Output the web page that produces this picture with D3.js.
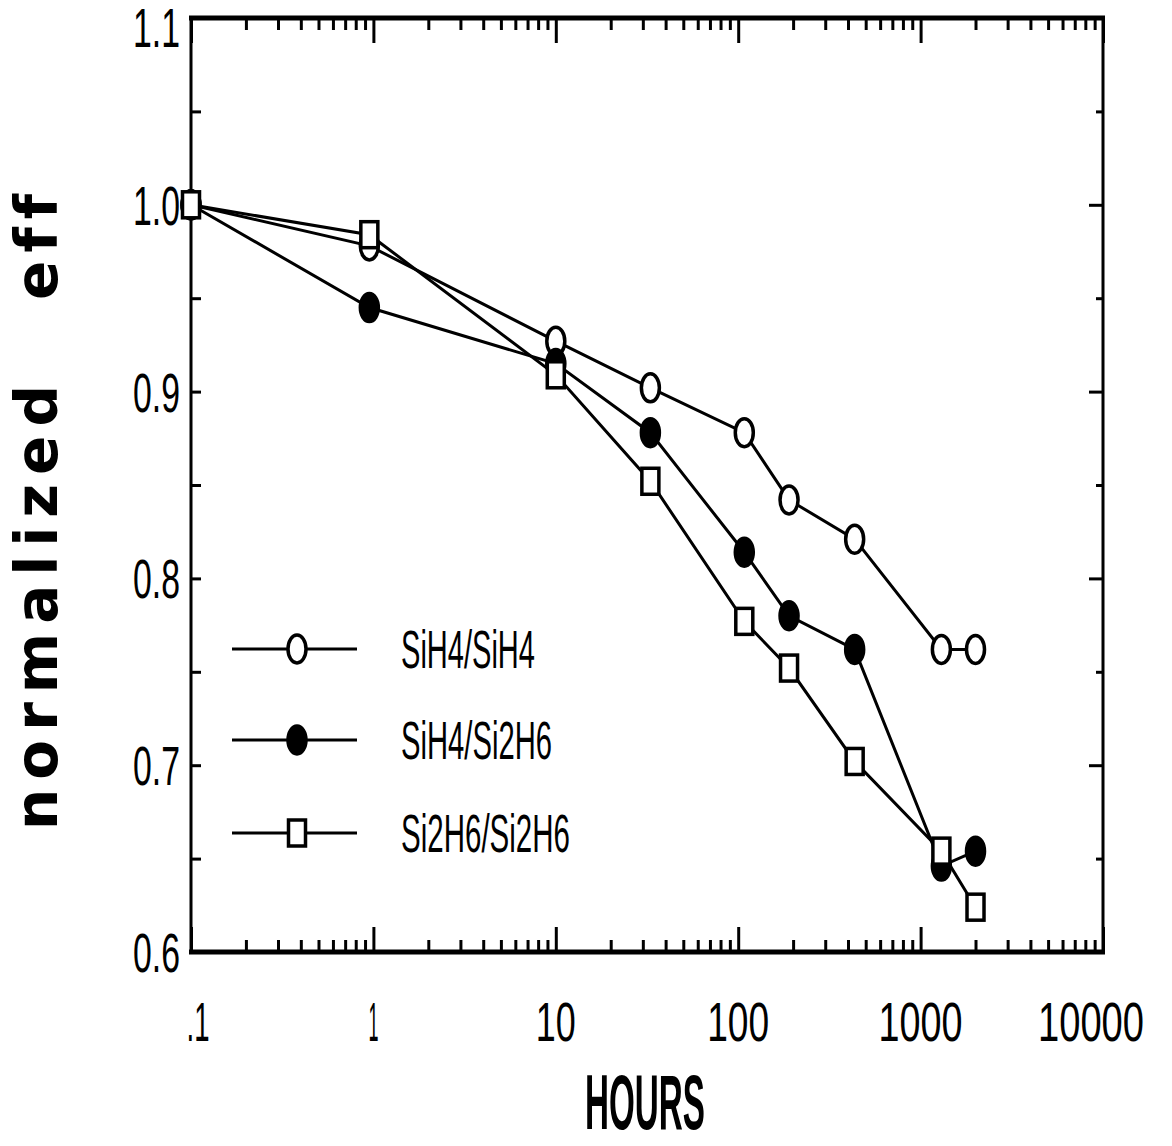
<!DOCTYPE html>
<meta charset="utf-8">
<style>
body { margin: 0; background: #fff; }
svg { display: block; }
.tick text { fill: #000; }
.tick line { stroke: #000; stroke-width: 3px; }
.lbl { font-family: "Liberation Sans Narrow", "Liberation Sans", Arial, sans-serif; fill: #000; }
</style>
<body>
<script src="https://cdn.jsdelivr.net/npm/d3@7"></script>
<script>

// data
var hours = [0.1, 0.95, 10, 33, 108, 190, 435, 1300, 2000];
var sih4_sih4 = [1.0, 0.978, 0.927, 0.902, 0.878, 0.842, 0.821, 0.762, 0.762];
var sih4_si2h6 = [1.0, 0.945, 0.915, 0.878, 0.814, 0.780, 0.762, 0.646, 0.654];
var si2h6_si2h6 = [1.0, 0.984, 0.909, 0.852, 0.777, 0.752, 0.702, 0.654, 0.624];
var seriesNames = ["SiH4/SiH4", "SiH4/Si2H6", "Si2H6/Si2H6"];
var xTickValues = [0.1, 1, 10, 100, 1000, 10000];
var xTickLabels = [".1", "1", "10", "100", "1000", "10000"];
var yTickValues = [0.6, 0.7, 0.8, 0.9, 1.0, 1.1];
var yTickLabels = ["0.6", "0.7", "0.8", "0.9", "1.0", "1.1"];

var width = 1172, height = 1146;
var pLeft = 191, pRight = 1103, pTop = 18, pBottom = 952;

var svg = d3.select("body").append("svg")
    .attr("width", width)
    .attr("height", height);

var x = d3.scaleLog().domain([0.1, 10000]).range([pLeft, pRight]);
var y = d3.scaleLinear().domain([0.6, 1.1]).range([pBottom, pTop]);

// minor log ticks (2..9 in each decade)
var minorX = [];
xTickValues.slice(0, -1).forEach(function(d) {
    for (var k = 2; k <= 9; k++) minorX.push(d * k);
});
var minorY = [0.65, 0.75, 0.85, 0.95, 1.05];

function noDomain(g) { g.select(".domain").remove(); }

/* ------- AXES ------- */
svg.append("g")
    .attr("transform", "translate(0," + pBottom + ")")
    .call(d3.axisBottom(x).tickValues(minorX).tickSize(-12).tickFormat(""))
    .call(noDomain);
svg.append("g")
    .attr("transform", "translate(0," + pBottom + ")")
    .call(d3.axisBottom(x).tickValues(xTickValues).tickSize(-25).tickFormat(""))
    .call(noDomain);
svg.append("g")
    .attr("transform", "translate(0," + pTop + ")")
    .call(d3.axisTop(x).tickValues(minorX).tickSize(-12).tickFormat(""))
    .call(noDomain);
svg.append("g")
    .attr("transform", "translate(0," + pTop + ")")
    .call(d3.axisTop(x).tickValues(xTickValues).tickSize(-25).tickFormat(""))
    .call(noDomain);

svg.append("g")
    .attr("transform", "translate(" + pLeft + ",0)")
    .call(d3.axisLeft(y).tickValues(yTickValues.concat(minorY)).tickSize(-10).tickFormat(""))
    .call(noDomain);
svg.append("g")
    .attr("transform", "translate(" + pRight + ",0)")
    .call(d3.axisRight(y).tickValues(yTickValues).tickSize(-14).tickFormat(""))
    .call(noDomain);
svg.append("g")
    .attr("transform", "translate(" + pRight + ",0)")
    .call(d3.axisRight(y).tickValues(minorY).tickSize(-7).tickFormat(""))
    .call(noDomain);

// frame
svg.append("line").attr("x1", pLeft - 2).attr("x2", pRight + 2).attr("y1", pTop).attr("y2", pTop)
    .attr("stroke", "#000").attr("stroke-width", 5);
svg.append("line").attr("x1", pLeft - 2).attr("x2", pRight + 2).attr("y1", pBottom).attr("y2", pBottom)
    .attr("stroke", "#000").attr("stroke-width", 5);
svg.append("line").attr("x1", pLeft).attr("x2", pLeft).attr("y1", pTop).attr("y2", pBottom)
    .attr("stroke", "#000").attr("stroke-width", 3);
svg.append("line").attr("x1", pRight).attr("x2", pRight).attr("y1", pTop).attr("y2", pBottom)
    .attr("stroke", "#000").attr("stroke-width", 3);

// tick labels
var xLabelWidth = function(s) { return s == ".1" ? 23 : s == "1" ? 10 : 22 * s.length - 4; };
var xLabelShift = function(i) { return i == 0 ? 7 : i == xTickValues.length - 1 ? -12 : 0; };
svg.append("g").selectAll("text")
    .data(xTickValues)
    .enter().append("text")
    .attr("class", "lbl")
    .attr("x", function(d, i) { return x(d) + xLabelShift(i); })
    .attr("y", 1041)
    .attr("text-anchor", "middle")
    .style("font-size", "56px")
    .attr("textLength", function(d, i) { return xLabelWidth(xTickLabels[i]); })
    .attr("lengthAdjust", "spacingAndGlyphs")
    .text(function(d, i) { return xTickLabels[i]; });

svg.append("g").selectAll("text")
    .data(yTickValues)
    .enter().append("text")
    .attr("class", "lbl")
    .attr("x", 180)
    .attr("y", function(d) { return Math.max(y(d) + 20, 47); })
    .attr("text-anchor", "end")
    .style("font-size", "55px")
    .attr("textLength", 47)
    .attr("lengthAdjust", "spacingAndGlyphs")
    .text(function(d, i) { return yTickLabels[i]; });

// axis titles
svg.append("text")
    .attr("x", 645).attr("y", 1129)
    .attr("text-anchor", "middle")
    .style("font-family", "'Liberation Sans Narrow', 'Liberation Sans', Arial, sans-serif")
    .style("font-weight", "bold")
    .style("font-size", "78px")
    .attr("textLength", 120)
    .attr("lengthAdjust", "spacingAndGlyphs")
    .text("HOURS");

var ytitle = svg.append("g").attr("transform", "translate(57,0) rotate(-90)");
ytitle.append("text")
    .attr("x", -830).attr("y", 0)
    .style("font-family", "'DejaVu Sans', sans-serif")
    .style("font-weight", "bold")
    .style("font-size", "58px")
    .attr("textLength", 445)
    .attr("lengthAdjust", "spacing")
    .text("normalized");
ytitle.append("text")
    .attr("x", -300).attr("y", 0)
    .style("font-family", "'DejaVu Sans', sans-serif")
    .style("font-weight", "bold")
    .style("font-size", "58px")
    .style("font-variant-ligatures", "none")
    .attr("textLength", 106)
    .attr("lengthAdjust", "spacing")
    .text("eff");

/* ------- SERIES ------- */
var line = d3.line()
    .x(function(d) { return x(d[0]); })
    .y(function(d) { return y(d[1]); });

var series = [sih4_sih4, sih4_si2h6, si2h6_si2h6].map(function(vals, i) {
    return { name: seriesNames[i], kind: i, points: hours.map(function(h, j) { return [h, vals[j]]; }) };
});

var rx = 9, ry = 14, sw = 17, sh = 26;

function drawMarker(g, kind) {
    if (kind == 2) {
        g.append("rect")
            .attr("x", -sw / 2).attr("y", -sh / 2)
            .attr("width", sw).attr("height", sh)
            .attr("fill", "#fff").attr("stroke", "#000").attr("stroke-width", 3.5);
    } else {
        g.append("ellipse")
            .attr("rx", rx).attr("ry", ry)
            .attr("fill", kind == 1 ? "#000" : "#fff")
            .attr("stroke", "#000").attr("stroke-width", 3.5);
    }
}

series.forEach(function(s) {
    svg.append("path")
        .datum(s.points)
        .attr("fill", "none")
        .attr("stroke", "#000")
        .attr("stroke-width", 3)
        .attr("d", line);
});

series.forEach(function(s) {
    svg.append("g").selectAll("g")
        .data(s.points)
        .enter().append("g")
        .attr("transform", function(d) { return "translate(" + x(d[0]) + "," + y(d[1]) + ")"; })
        .each(function() { drawMarker(d3.select(this), s.kind); });
});

/* ------- LEGEND ------- */
var legendY = [649, 740, 833];
var legendTextW = [134, 151, 169];
var legend = svg.append("g").selectAll("g")
    .data(series)
    .enter().append("g")
    .attr("transform", function(d, i) { return "translate(0," + legendY[i] + ")"; });

legend.append("line")
    .attr("x1", 232).attr("x2", 357)
    .attr("stroke", "#000").attr("stroke-width", 3);
legend.append("g")
    .attr("transform", "translate(297,0)")
    .each(function(d) { drawMarker(d3.select(this), d.kind); });
legend.append("text")
    .attr("class", "lbl")
    .attr("x", 401).attr("y", 19)
    .style("font-size", "53px")
    .attr("textLength", function(d, i) { return legendTextW[i]; })
    .attr("lengthAdjust", "spacingAndGlyphs")
    .text(function(d) { return d.name; });

</script>
</body>
